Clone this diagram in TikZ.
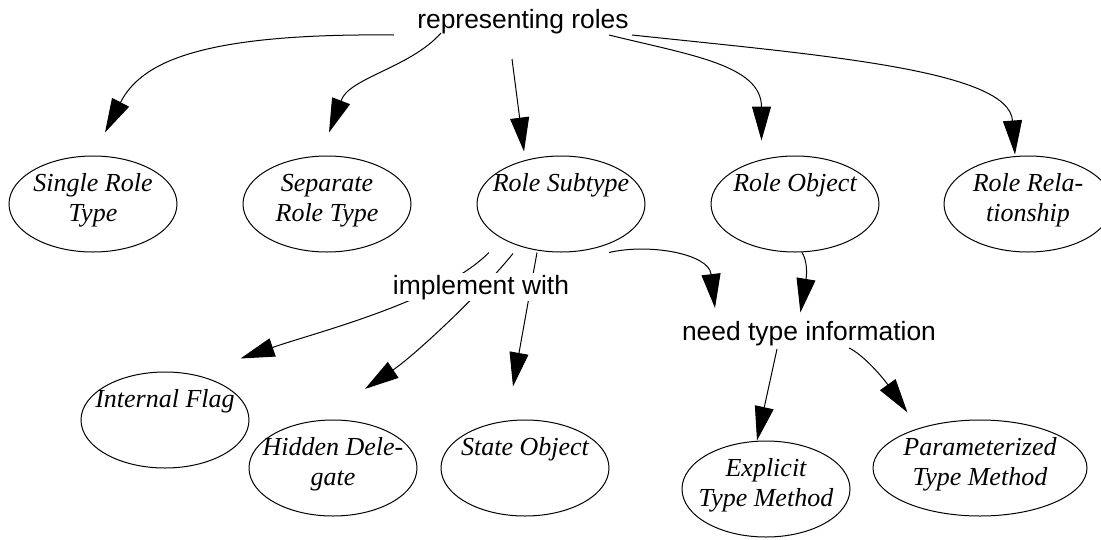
\documentclass[tikz,border=0pt]{standalone}
\usepackage{fontspec}
\setmainfont{Liberation Serif}
\newfontfamily\labelsans{Liberation Sans}
\usetikzlibrary{arrows.meta,shapes.geometric,calc}

% two-line caption inside an oval, each line with a strut
\newcommand\ovtx[2]{\strut #1\\\strut #2}

\tikzset{
  oval/.style={draw, ellipse, line width=1pt, inner sep=0pt,
               minimum width=168pt, minimum height=96pt},
  ovaltext/.style={font=\itshape\fontsize{26}{30}\selectfont, align=center,
                   inner sep=0pt, yshift=4pt},
  tag/.style={font=\labelsans\fontsize{26.4}{30}\selectfont, inner sep=0pt, anchor=base},
  conn/.style={line width=1pt, -{Triangle[length=34pt,width=19pt]}},
}

\begin{document}
\begin{tikzpicture}[x=1pt,y=-1pt]
\useasboundingbox (0,0) rectangle (1101,539);
\fill[white] (0,0) rectangle (1101,539);

% ---- ovals, top row ----
\node[oval] (srt) at (93,204) {};
\node[ovaltext] (srt-t) at (srt) {\ovtx{Single Role}{Type}};
\node[oval] (sep) at (327,204) {};
\node[ovaltext] (sep-t) at (sep) {\ovtx{Separate}{Role Type}};
\node[oval] (rs) at (561,204) {};
\node[ovaltext] (rs-t) at (rs) {\ovtx{Role Subtype}{}};
\node[oval] (ro) at (795,204) {};
\node[ovaltext] (ro-t) at (ro) {\ovtx{Role Object}{}};
\node[oval] (rr) at (1028,204) {};
\node[ovaltext] (rr-t) at (rr) {\ovtx{Role Rela-}{tionship}};

% ---- ovals, lower part ----
\node[oval] (if) at (165,420) {};
\node[ovaltext] (if-t) at (if) {\ovtx{Internal Flag}{}};
\node[oval] (hd) at (333,468) {};
\node[ovaltext] (hd-t) at (hd) {\ovtx{Hidden Dele-}{gate}};
\node[oval] (so) at (525,468) {};
\node[ovaltext] (so-t) at (so) {\ovtx{State Object}{}};
\node[oval] (etm) at (766,489) {};
\node[ovaltext] (etm-t) at (etm) {\ovtx{Explicit}{Type Method}};
\node[oval, minimum width=214pt] (ptm) at (980,468) {};
\node[ovaltext] (ptm-t) at (ptm) {\ovtx{Parameterized}{Type Method}};

% ---- plain labels ----
\node[tag] (roles) at (523,28) {representing roles};
\node[tag] (need) at (809,340) {need type information};

% ---- connector ends ----
\coordinate (a1) at ($(roles.base)+(-129,7)$);
\coordinate (a2) at ($(roles.base)+(-82,5)$);
\coordinate (a3) at ($(roles.base)+(-11,31)$);
\coordinate (a4) at ($(roles.base)+(86,7)$);
\coordinate (a5) at ($(roles.base)+(109,7)$);
\coordinate (b1) at ($(rs.south)+(-72,0)$);
\coordinate (b2) at ($(rs.south)+(-48,1)$);
\coordinate (b3) at ($(rs.south)+(-24,0)$);
\coordinate (b4) at ($(rs.south)+(48,0)$);
\coordinate (n1) at ($(need.base)+(-32,9)$);
\coordinate (n2) at ($(need.base)+(40,8)$);

\coordinate (t1) at ($(srt.north)+(12,-23)$);
\coordinate (t2) at ($(sep.north)+(2,-23)$);
\coordinate (t3) at ($(rs.north)+(-37,-4)$);
\coordinate (t4) at ($(ro.north)+(-33.5,-15)$);
\coordinate (t5) at ($(rr.north)+(-13,-1)$);
\coordinate (t6) at ($(if.north)+(75.5,-13)$);
\coordinate (t7) at ($(hd.north)+(32,-30.6)$);
\coordinate (t8) at ($(so.north)+(-12,-33)$);
\coordinate (t9) at ($(need.base)+(-94,-32)$);
\coordinate (t10) at ($(need.base)+(-8.6,-27.5)$);
\coordinate (t11) at ($(etm.north)+(-9,0)$);
\coordinate (t12) at ($(ptm.north)+(-72.6,-7.1)$);

% ---- representing roles ----
\draw[conn] (a1) .. controls (200,33) and (140.9,62.4) .. (120.5,102.5) -- (t1);
\draw[conn] (a2) .. controls (410,68) and (348,78) .. (341,101) -- (t2);
\draw[conn] (a3) -- (t3);
\draw[conn] (a4) .. controls (690,55) and (761.5,65) .. (761.5,107) -- (t4);
\draw[conn] (a5) .. controls (820,55) and (1010,70) .. (1012.5,121) -- (t5);

% ---- implement with ----
\draw[conn] (b1) .. controls (440,302) and (310,334) .. (272.5,347.5) -- (t6);
\draw[conn] (b2) .. controls (482,292) and (417.6,352.9) .. (393,370) -- (t7);
\draw[conn] (b3) -- (t8);

% ---- need type information ----
\draw[conn] (b4) .. controls (650,243) and (708.7,254) .. (711,274) -- (t9);
\draw[conn] (ro.-82) .. controls (806,258) and (807.5,270) .. (806,279) -- (t10);
\draw[conn] (n1) -- (t11);
\draw[conn] (n2) .. controls (862,354) and (881,375) .. (888,385) -- (t12);

% label sits over the three lines that pass through it
\node[tag, fill=white, inner sep=1.5pt] (impl) at (481,294) {implement with};
\end{tikzpicture}
\end{document}
